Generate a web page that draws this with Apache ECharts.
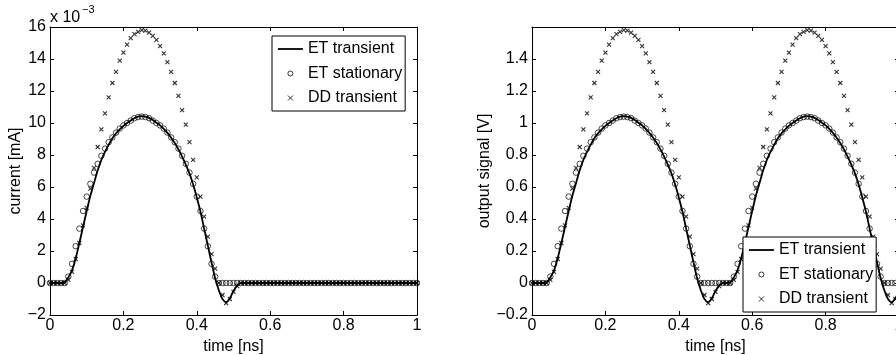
<!DOCTYPE html>
<html>
<head>
<meta charset="utf-8">
<script src="https://cdn.jsdelivr.net/npm/echarts@6/dist/echarts.min.js"></script>
<style>
  html, body { margin: 0; padding: 0; background: #fff; }
  #chart { width: 896px; height: 355px; }
</style>
</head>
<body>
<div id="chart"></div>
<script>
// sample times [ns]
const time = [
  0, 0.01, 0.02, 0.03, 0.04, 0.05, 0.06, 0.07, 0.08, 0.09,
  0.10, 0.11, 0.12, 0.13, 0.14, 0.15, 0.16, 0.17, 0.18, 0.19,
  0.20, 0.21, 0.22, 0.23, 0.24, 0.25, 0.26, 0.27, 0.28, 0.29,
  0.30, 0.31, 0.32, 0.33, 0.34, 0.35, 0.36, 0.37, 0.38, 0.39,
  0.40, 0.41, 0.42, 0.43, 0.44, 0.45, 0.46, 0.47, 0.48, 0.49,
  0.50, 0.51, 0.52, 0.53, 0.54, 0.55, 0.56, 0.57, 0.58, 0.59,
  0.60, 0.61, 0.62, 0.63, 0.64, 0.65, 0.66, 0.67, 0.68, 0.69,
  0.70, 0.71, 0.72, 0.73, 0.74, 0.75, 0.76, 0.77, 0.78, 0.79,
  0.80, 0.81, 0.82, 0.83, 0.84, 0.85, 0.86, 0.87, 0.88, 0.89,
  0.90, 0.91, 0.92, 0.93, 0.94, 0.95, 0.96, 0.97, 0.98, 0.99,
  1.00
];

// left panel: current [mA] x 10^-3
const etTransientCurrent = [
  0, 0, 0, 0, 0.05, 0.35, 0.8, 1.55, 2.5, 3.5,
  4.5, 5.45, 6.25, 7.05, 7.7, 8.2, 8.65, 9.05, 9.35, 9.6,
  9.82, 10.0, 10.15, 10.3, 10.4, 10.43, 10.4, 10.32, 10.18, 10.02,
  9.85, 9.63, 9.38, 9.08, 8.75, 8.35, 7.9, 7.4, 6.85, 6.15,
  5.35, 4.45, 3.4, 2.35, 1.3, 0.3, -0.45, -1.0, -1.2, -0.95,
  -0.5, -0.15, 0, 0, 0, 0, 0, 0, 0, 0,
  0, 0, 0, 0, 0, 0, 0, 0, 0, 0,
  0, 0, 0, 0, 0, 0, 0, 0, 0, 0,
  0, 0, 0, 0, 0, 0, 0, 0, 0, 0,
  0, 0, 0, 0, 0, 0, 0, 0, 0, 0,
  0
];
const etStationaryCurrent = [
  0, 0, 0, 0, 0, 0.4, 1.2, 2.3, 3.4, 4.5,
  5.4, 6.2, 6.9, 7.45, 7.95, 8.4, 8.8, 9.1, 9.4, 9.65,
  9.85, 10.0, 10.15, 10.3, 10.37, 10.4, 10.37, 10.3, 10.15, 10.0,
  9.85, 9.65, 9.4, 9.1, 8.8, 8.4, 7.95, 7.45, 6.9, 6.2,
  5.4, 4.5, 3.4, 2.3, 1.2, 0.4, 0, 0, 0, 0,
  0, 0, 0, 0, 0, 0, 0, 0, 0, 0,
  0, 0, 0, 0, 0, 0, 0, 0, 0, 0,
  0, 0, 0, 0, 0, 0, 0, 0, 0, 0,
  0, 0, 0, 0, 0, 0, 0, 0, 0, 0,
  0, 0, 0, 0, 0, 0, 0, 0, 0, 0,
  0
];
const ddTransientCurrent = [
  0, 0, 0, 0, 0, 0.2, 0.7, 1.5, 2.5, 3.6,
  4.7, 5.9, 7.2, 8.5, 9.6, 10.6, 11.6, 12.5, 13.2, 13.9,
  14.4, 14.9, 15.3, 15.55, 15.7, 15.8, 15.77, 15.65, 15.45, 15.2,
  14.8, 14.35, 13.8, 13.2, 12.5, 11.7, 10.8, 9.9, 8.8, 7.7,
  6.6, 5.4, 4.15, 2.9, 1.8, 0.9, 0.0, -0.75, -1.25, -1.0,
  -0.55, -0.2, 0, 0, 0, 0, 0, 0, 0, 0,
  0, 0, 0, 0, 0, 0, 0, 0, 0, 0,
  0, 0, 0, 0, 0, 0, 0, 0, 0, 0,
  0, 0, 0, 0, 0, 0, 0, 0, 0, 0,
  0, 0, 0, 0, 0, 0, 0, 0, 0, 0,
  0
];

// right panel: output signal [V]
const etTransientSignal = [
  0, 0, 0, 0, 0.005, 0.035, 0.08, 0.155, 0.25, 0.35,
  0.45, 0.545, 0.625, 0.705, 0.77, 0.82, 0.865, 0.905, 0.935, 0.96,
  0.982, 1.0, 1.015, 1.03, 1.04, 1.043, 1.04, 1.032, 1.018, 1.002,
  0.985, 0.963, 0.938, 0.908, 0.875, 0.835, 0.79, 0.74, 0.685, 0.615,
  0.535, 0.445, 0.34, 0.235, 0.13, 0.03, -0.045, -0.1, -0.12, -0.095,
  -0.05, -0.015, 0, 0, 0.005, 0.035, 0.08, 0.155, 0.25, 0.35,
  0.45, 0.545, 0.625, 0.705, 0.77, 0.82, 0.865, 0.905, 0.935, 0.96,
  0.982, 1.0, 1.015, 1.03, 1.04, 1.043, 1.04, 1.032, 1.018, 1.002,
  0.985, 0.963, 0.938, 0.908, 0.875, 0.835, 0.79, 0.74, 0.685, 0.615,
  0.535, 0.445, 0.34, 0.235, 0.13, 0.03, -0.045, -0.1, -0.12, -0.095,
  -0.05
];
const etStationarySignal = [
  0, 0, 0, 0, 0, 0.04, 0.12, 0.23, 0.34, 0.45,
  0.54, 0.62, 0.69, 0.745, 0.795, 0.84, 0.88, 0.91, 0.94, 0.965,
  0.985, 1.0, 1.015, 1.03, 1.037, 1.04, 1.037, 1.03, 1.015, 1.0,
  0.985, 0.965, 0.94, 0.91, 0.88, 0.84, 0.795, 0.745, 0.69, 0.62,
  0.54, 0.45, 0.34, 0.23, 0.12, 0.04, 0, 0, 0, 0,
  0, 0, 0, 0, 0, 0.04, 0.12, 0.23, 0.34, 0.45,
  0.54, 0.62, 0.69, 0.745, 0.795, 0.84, 0.88, 0.91, 0.94, 0.965,
  0.985, 1.0, 1.015, 1.03, 1.037, 1.04, 1.037, 1.03, 1.015, 1.0,
  0.985, 0.965, 0.94, 0.91, 0.88, 0.84, 0.795, 0.745, 0.69, 0.62,
  0.54, 0.45, 0.34, 0.23, 0.12, 0.04, 0, 0, 0, 0,
  0
];
const ddTransientSignal = [
  0, 0, 0, 0, 0, 0.02, 0.07, 0.15, 0.25, 0.36,
  0.47, 0.59, 0.72, 0.85, 0.96, 1.06, 1.16, 1.25, 1.32, 1.39,
  1.44, 1.49, 1.53, 1.555, 1.57, 1.58, 1.577, 1.565, 1.545, 1.52,
  1.48, 1.435, 1.38, 1.32, 1.25, 1.17, 1.08, 0.99, 0.88, 0.77,
  0.66, 0.54, 0.415, 0.29, 0.18, 0.09, 0.0, -0.075, -0.125, -0.1,
  -0.055, -0.02, 0, 0, 0, 0.02, 0.07, 0.15, 0.25, 0.36,
  0.47, 0.59, 0.72, 0.85, 0.96, 1.06, 1.16, 1.25, 1.32, 1.39,
  1.44, 1.49, 1.53, 1.555, 1.57, 1.58, 1.577, 1.565, 1.545, 1.52,
  1.48, 1.435, 1.38, 1.32, 1.25, 1.17, 1.08, 0.99, 0.88, 0.77,
  0.66, 0.54, 0.415, 0.29, 0.18, 0.09, 0.0, -0.075, -0.125, -0.1,
  -0.055
];

const legendNames = ['ET transient', 'ET stationary', 'DD transient'];

const FONT = '"Liberation Sans", Arial, Helvetica, sans-serif';
const crossPath = 'path://M0,0L10,10M10,0L0,10';
const fmt = v => String(+v.toFixed(2)).replace('-', '\u2212');
const pairs = ys => ys.map((v, i) => [time[i], v]);

const chart = echarts.init(document.getElementById('chart'));

const baseAxis = {
  axisLine: { show: true, onZero: false, lineStyle: { color: '#000', width: 1 } },
  axisTick: { show: true, inside: true, length: 4, lineStyle: { color: '#000' } },
  splitLine: { show: false },
  nameTextStyle: { fontFamily: FONT, fontSize: 16, color: '#000' }
};
const labelStyle = { fontFamily: FONT, fontSize: 16, color: '#000' };

function xAxes(gridIndex) {
  return [
    Object.assign({}, baseAxis, {
      type: 'value', gridIndex: gridIndex, position: 'bottom',
      min: 0, max: 1, interval: 0.2,
      name: 'time [ns]', nameLocation: 'middle', nameGap: 18,
      axisLabel: Object.assign({ margin: 3, formatter: fmt }, labelStyle)
    }),
    Object.assign({}, baseAxis, {
      type: 'value', gridIndex: gridIndex, position: 'top',
      min: 0, max: 1, interval: 0.2,
      axisLabel: { show: false }
    })
  ];
}

function yAxes(gridIndex, min, max, step, name, gap, hideMax) {
  return [
    Object.assign({}, baseAxis, {
      type: 'value', gridIndex: gridIndex, position: 'left',
      min: min, max: max, interval: step,
      name: name, nameLocation: 'middle', nameGap: gap,
      axisLabel: Object.assign({
        margin: 4,
        formatter: v => (hideMax && Math.abs(v - max) < 1e-9) ? '' : fmt(v)
      }, labelStyle)
    }),
    Object.assign({}, baseAxis, {
      type: 'value', gridIndex: gridIndex, position: 'right',
      min: min, max: max, interval: step,
      axisLabel: { show: false }
    })
  ];
}

function panelSeries(xIdx, yIdx, line, circles, crosses) {
  return [
    {
      name: legendNames[0], type: 'line', xAxisIndex: xIdx, yAxisIndex: yIdx,
      data: pairs(line), symbol: 'none', smooth: 0.3,
      lineStyle: { color: '#000', width: 1.8 }, itemStyle: { color: '#000' },
      z: 2
    },
    {
      name: legendNames[1], type: 'scatter', xAxisIndex: xIdx, yAxisIndex: yIdx,
      data: pairs(circles), symbol: 'circle', symbolSize: 5.5,
      itemStyle: { color: 'transparent', borderColor: '#000', borderWidth: 0.9 },
      z: 3
    },
    {
      name: legendNames[2], type: 'scatter', xAxisIndex: xIdx, yAxisIndex: yIdx,
      data: pairs(crosses), symbol: crossPath, symbolSize: 4,
      itemStyle: { color: 'transparent', borderColor: '#000', borderWidth: 1.1 },
      z: 4
    }
  ];
}

function legendAt(left, top) {
  return {
    left: left, top: top, orient: 'vertical',
    data: [
      // plain line sample, no marker in the middle
      { name: legendNames[0], itemStyle: { color: 'transparent', borderColor: 'transparent', borderWidth: 0 } },
      { name: legendNames[1] },
      { name: legendNames[2] }
    ],
    selectedMode: false,
    itemWidth: 25, itemHeight: 5, itemGap: 8.5,
    padding: [5, 3, 5, 5],
    borderColor: '#000', borderWidth: 1, backgroundColor: '#fff',
    itemStyle: { borderWidth: 1 },
    lineStyle: { width: 1.8 },
    textStyle: { fontFamily: FONT, fontSize: 16, color: '#000', lineHeight: 16 },
    z: 10
  };
}

const option = {
  animation: false,
  backgroundColor: '#fff',
  grid: [
    { left: 50, top: 27, width: 367, height: 288, outerBoundsMode: 'none' },
    { left: 532, top: 27, width: 367, height: 288, outerBoundsMode: 'none' }
  ],
  xAxis: xAxes(0).concat(xAxes(1)),
  yAxis: yAxes(0, -2, 16, 2, 'current [mA]', 22, false)
    .concat(yAxes(1, -0.2, 1.6, 0.2, 'output signal [V]', 38, true)),
  legend: [legendAt(272, 36), legendAt(743, 237)],
  graphic: [
    { type: 'text', x: 50, y: 10, style: { text: 'x 10', font: '16px ' + FONT, fill: '#000' } },
    { type: 'text', x: 82, y: 4, style: { text: '\u22123', font: '11px ' + FONT, fill: '#000' } }
  ],
  series: panelSeries(0, 0, etTransientCurrent, etStationaryCurrent, ddTransientCurrent)
    .concat(panelSeries(2, 2, etTransientSignal, etStationarySignal, ddTransientSignal))
};

chart.setOption(option);
</script>
</body>
</html>
